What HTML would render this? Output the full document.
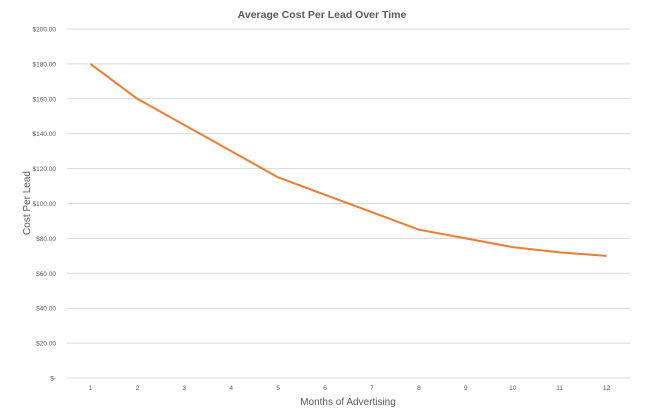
<!DOCTYPE html>
<html><head><meta charset="utf-8"><style>
body{margin:0;background:#fff;font-family:"Liberation Sans",sans-serif}
svg text{font-family:"Liberation Sans",sans-serif}
</style></head><body>
<svg id="chart" width="645" height="413" xmlns="http://www.w3.org/2000/svg">
<rect width="645" height="413" fill="#fff"/>
<text x="322" y="18" text-anchor="middle" font-size="10.5" font-weight="bold" fill="#595959">Average Cost Per Lead Over Time</text>
<g id="grid"></g><g id="yt"></g><g id="xt"></g><g id="ln"></g>
<text transform="translate(30,203) rotate(-90)" text-anchor="middle" font-size="10" fill="#595959">Cost Per Lead</text>
<text x="348" y="405" text-anchor="middle" font-size="10" fill="#595959">Months of Advertising</text>
</svg>
<script>
const categories=[1,2,3,4,5,6,7,8,9,10,11,12];
const costValues=[180,160,145,130,115,105,95,85,80,75,72,70];
const yTicks=[0,20,40,60,80,100,120,140,160,180,200];
const yTickLabels=["$-","$20.00","$40.00","$60.00","$80.00","$100.00","$120.00","$140.00","$160.00","$180.00","$200.00"];
const L=67,R=630,T=29,B=378,NS="http://www.w3.org/2000/svg";
const y=v=>B-(v/200)*(B-T);
const bw=(R-L)/categories.length;
const x=i=>L+bw*(i+0.5);
function mk(t,a,p){const e=document.createElementNS(NS,t);for(const k in a)e.setAttribute(k,a[k]);document.getElementById(p).appendChild(e);return e;}
yTicks.forEach((v,i)=>{
 const g=mk('line',{x1:L,x2:R,y1:y(v),y2:y(v),stroke:'#d9d9d9','stroke-width':1},'grid');
 
 
 const t=mk('text',{x:56,y:y(v)+2.5,'text-anchor':'end','font-size':6.5,fill:'#595959'},'yt');
 t.textContent=yTickLabels[i];
 
 
});
categories.forEach((c,i)=>{
 const t=mk('text',{x:x(i),y:390,'text-anchor':'middle','font-size':6.5,fill:'#595959'},'xt');
 t.textContent=c;
 
 
});
const p=mk('polyline',{points:costValues.map((v,i)=>x(i)+','+y(v)).join(' '),fill:'none',stroke:'#ed7d31','stroke-width':2,'stroke-linejoin':'round'},'ln');


</script>
</body></html>
